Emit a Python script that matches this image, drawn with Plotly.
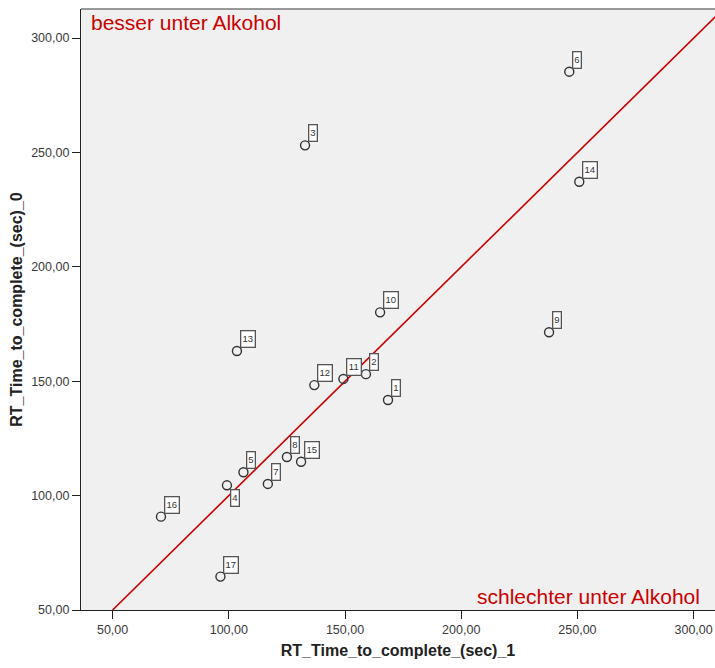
import plotly.graph_objects as go

ids = [str(i) for i in range(1, 18)]
rt_sec_1 = [168.5, 159.0, 132.8, 99.2, 106.3, 246.5, 116.8, 125.0, 237.8, 165.1,
            149.3, 136.8, 103.5, 250.8, 131.1, 70.8, 96.4]
rt_sec_0 = [141.8, 153.1, 253.1, 104.5, 110.2, 285.3, 105.1, 116.9, 171.4, 180.1,
            151.0, 148.3, 163.2, 237.2, 114.8, 90.8, 64.6]
diag = [50, 320]

FONT = "Liberation Sans, Arial"

fig = go.Figure()
fig.add_trace(go.Scatter(x=diag, y=diag, mode="lines",
                         line=dict(color="#cc0000", width=1.6), hoverinfo="skip"))
fig.add_trace(go.Scatter(x=rt_sec_1, y=rt_sec_0, mode="markers",
                         marker=dict(symbol="circle-open", size=9,
                                     color="#333333", line=dict(width=1.4))))

for lab, xv, yv in zip(ids, rt_sec_1, rt_sec_0):
    below = lab == "4"
    fig.add_annotation(x=xv, y=yv, text=lab, showarrow=False,
                       xanchor="left", yanchor="top" if below else "bottom",
                       xshift=3, yshift=-4 if below else 3,
                       font=dict(family=FONT, size=9.5, color="#333333"),
                       bgcolor="white", bordercolor="#555555", borderwidth=1.3,
                       borderpad=0, width=7 if len(lab) == 1 else 13, height=15)

fig.add_annotation(x=0.013, y=1.0, xref="paper", yref="paper", text="besser unter Alkohol",
                   showarrow=False, xanchor="left", yanchor="top",
                   font=dict(family=FONT, size=21, color="#cc0000"))
fig.add_annotation(x=0.98, y=0.0, xref="paper", yref="paper", text="schlechter unter Alkohol",
                   showarrow=False, xanchor="right", yanchor="bottom",
                   font=dict(family=FONT, size=21, color="#cc0000"))

fig.add_shape(type="line", xref="paper", yref="paper", x0=0, x1=1, y0=1, y1=1,
              line=dict(color="#777777", width=1.5))

axis_common = dict(showgrid=False, zeroline=False, showline=True, linecolor="#222222",
                   linewidth=1.2, ticks="outside", ticklen=8, tickcolor="#222222",
                   tickformat=".2f", dtick=50,
                   tickfont=dict(family=FONT, size=12.5, color="#3a3a3a"))

fig.update_layout(
    width=715, height=668,
    margin=dict(l=81, r=0, t=9, b=58),
    paper_bgcolor="white", plot_bgcolor="#f0f0f0",
    showlegend=False,
    separators=",.",
    xaxis=dict(range=[36.4, 309.2], tick0=50,
               title=dict(text="<b>RT_Time_to_complete_(sec)_1</b>", standoff=8,
                          font=dict(family=FONT, size=16, color="#222222")),
               **axis_common),
    yaxis=dict(range=[50, 312.7], tick0=50,
               title=dict(text="<b>RT_Time_to_complete_(sec)_0</b>", standoff=4,
                          font=dict(family=FONT, size=16, color="#222222")),
               **axis_common),
)

fig.write_html("out.html")
